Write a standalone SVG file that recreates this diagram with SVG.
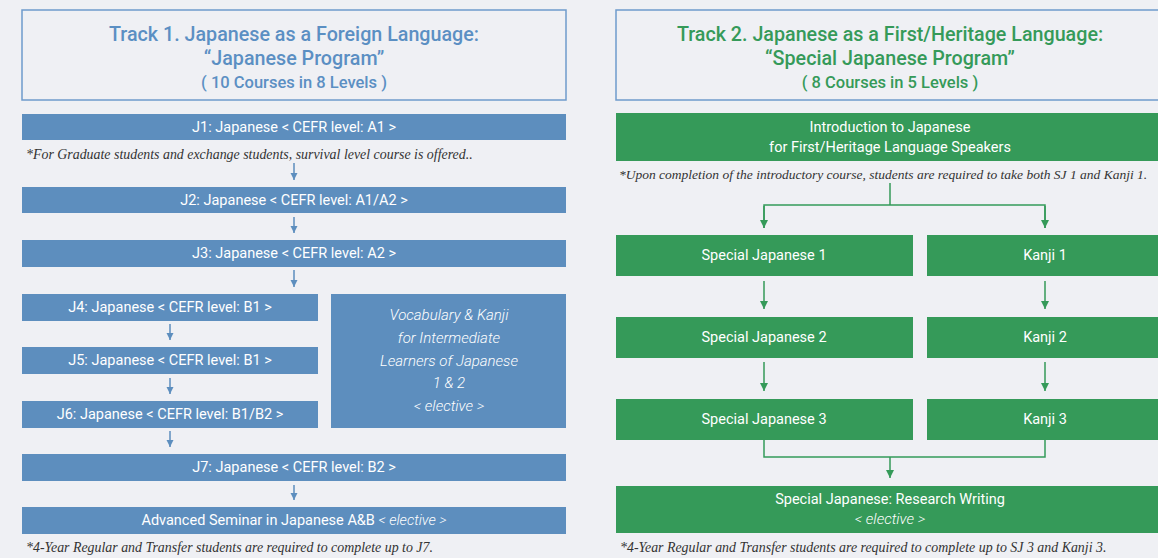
<svg xmlns="http://www.w3.org/2000/svg" width="1158" height="558" viewBox="0 0 1158 558">
<defs>
<style>
.bg{fill:#eff0f4}
.hdr{fill:none;stroke:#6f9bcb;stroke-width:1.5}
.b{fill:#5d8ebe}
.g{fill:#359a59}
.t{font-family:Roboto,"Liberation Sans",sans-serif;font-size:14.5px;font-weight:400;fill:#ffffff;text-anchor:middle}
.ti{font-family:Roboto,"Liberation Sans",sans-serif;font-size:15px;font-style:italic;font-weight:300;fill:#ffffff;text-anchor:middle}
.h1{font-family:Roboto,"Liberation Sans",sans-serif;font-size:19.7px;font-weight:500;text-anchor:middle}
.h2{font-family:Roboto,"Liberation Sans",sans-serif;font-size:16.5px;font-weight:500;text-anchor:middle}
.hb{fill:#5b8fc3}
.hg{fill:#359a59}
.note{font-family:"Liberation Serif",serif;font-style:italic;font-size:13.9px;fill:#333333}
.cb{stroke:#5d8ebe;stroke-width:1.5;fill:none}
.cg{stroke:#359a59;stroke-width:1.5;fill:none}
</style>
<marker id="ab" viewBox="0 0 10 10" refX="10" refY="5" markerWidth="5" markerHeight="5" orient="auto" markerUnits="strokeWidth"><path d="M0,0 L10,5 L0,10 Z" fill="#5d8ebe"/></marker>
<marker id="ag" viewBox="0 0 10 10" refX="10" refY="5" markerWidth="5.5" markerHeight="5.5" orient="auto" markerUnits="strokeWidth"><path d="M0,0 L10,5 L0,10 Z" fill="#359a59"/></marker>
</defs>
<rect class="bg" x="0" y="0" width="1158" height="558"/>

<g id="track1-header">
<rect class="hdr" x="22" y="10" width="544" height="90"/>
<text class="h1 hb" x="294" y="41">Track 1. Japanese as a Foreign Language:</text>
<text class="h1 hb" x="294" y="65">“Japanese Program”</text>
<text class="h2 hb" x="294" y="88">( 10 Courses in 8 Levels )</text>
</g>

<g id="track2-header">
<rect class="hdr" x="616" y="10" width="560" height="90"/>
<text class="h1 hg" x="890" y="41">Track 2. Japanese as a First/Heritage Language:</text>
<text class="h1 hg" x="890" y="65">“Special Japanese Program”</text>
<text class="h2 hg" x="890" y="88">( 8 Courses in 5 Levels )</text>
</g>

<g id="j1"><rect class="b" x="22" y="114" width="544" height="26"/><text class="t" x="294" y="132">J1: Japanese &lt; CEFR level: A1 &gt;</text></g>
<text class="note" x="26" y="159">*For Graduate students and exchange students, survival level course is offered..</text>
<g id="j2"><rect class="b" x="22" y="187" width="544" height="26"/><text class="t" x="294" y="205">J2: Japanese &lt; CEFR level: A1/A2 &gt;</text></g>
<g id="j3"><rect class="b" x="22" y="240" width="544" height="27"/><text class="t" x="294" y="258">J3: Japanese &lt; CEFR level: A2 &gt;</text></g>
<g id="j4"><rect class="b" x="22" y="294" width="296" height="27"/><text class="t" x="170" y="312">J4: Japanese &lt; CEFR level: B1 &gt;</text></g>
<g id="j5"><rect class="b" x="22" y="347" width="296" height="27"/><text class="t" x="170" y="365">J5: Japanese &lt; CEFR level: B1 &gt;</text></g>
<g id="j6"><rect class="b" x="22" y="401" width="296" height="27"/><text class="t" x="170" y="419">J6: Japanese &lt; CEFR level: B1/B2 &gt;</text></g>
<g id="vocab"><rect class="b" x="331" y="294" width="235" height="134"/>
<text class="ti" x="449" y="320">Vocabulary &amp; Kanji</text>
<text class="ti" x="449" y="343">for Intermediate</text>
<text class="ti" x="449" y="366">Learners of Japanese</text>
<text class="ti" x="449" y="388">1 &amp; 2</text>
<text class="ti" x="449" y="411">&lt; elective &gt;</text>
</g>
<g id="j7"><rect class="b" x="22" y="454" width="544" height="27"/><text class="t" x="294" y="472">J7: Japanese &lt; CEFR level: B2 &gt;</text></g>
<g id="adv"><rect class="b" x="22" y="507" width="544" height="27"/><text class="t" x="294" y="525">Advanced Seminar in Japanese A&amp;B <tspan font-style="italic" font-weight="300">&lt; elective &gt;</tspan></text></g>
<text class="note" x="26" y="552">*4-Year Regular and Transfer students are required to complete up to J7.</text>

<g id="intro"><rect class="g" x="616" y="113" width="560" height="48"/>
<text class="t" x="890" y="132">Introduction to Japanese</text>
<text class="t" x="890" y="152">for First/Heritage Language Speakers</text></g>
<text class="note" x="619" y="179" style="font-size:13.5px">*Upon completion of the introductory course, students are required to take both SJ 1 and Kanji 1.</text>
<g id="sj1"><rect class="g" x="616" y="235" width="297" height="41"/><text class="t" x="764" y="260">Special Japanese 1</text></g>
<g id="k1"><rect class="g" x="927" y="235" width="240" height="41"/><text class="t" x="1045" y="260">Kanji 1</text></g>
<g id="sj2"><rect class="g" x="616" y="317" width="297" height="41"/><text class="t" x="764" y="342">Special Japanese 2</text></g>
<g id="k2"><rect class="g" x="927" y="317" width="240" height="41"/><text class="t" x="1045" y="342">Kanji 2</text></g>
<g id="sj3"><rect class="g" x="616" y="399" width="297" height="41"/><text class="t" x="764" y="424">Special Japanese 3</text></g>
<g id="k3"><rect class="g" x="927" y="399" width="240" height="41"/><text class="t" x="1045" y="424">Kanji 3</text></g>
<g id="rw"><rect class="g" x="616" y="486" width="560" height="47"/>
<text class="t" x="890" y="504">Special Japanese: Research Writing</text>
<text class="ti" x="890" y="524">&lt; elective &gt;</text></g>
<text class="note" x="620" y="552">*4-Year Regular and Transfer students are required to complete up to SJ 3 and Kanji 3.</text>

<g id="connectors">
<line class="cb" x1="294" y1="163" x2="294" y2="180" marker-end="url(#ab)"/>
<line class="cb" x1="294" y1="217" x2="294" y2="233" marker-end="url(#ab)"/>
<line class="cb" x1="294" y1="270" x2="294" y2="287" marker-end="url(#ab)"/>
<line class="cb" x1="170" y1="324" x2="170" y2="340" marker-end="url(#ab)"/>
<line class="cb" x1="170" y1="378" x2="170" y2="394" marker-end="url(#ab)"/>
<line class="cb" x1="170" y1="431" x2="170" y2="447" marker-end="url(#ab)"/>
<line class="cb" x1="294" y1="485" x2="294" y2="500" marker-end="url(#ab)"/>
<polyline class="cg" points="890,183 890,205"/>
<polyline class="cg" points="764,228 764,205 1045,205 1045,228"/>
<path class="cg" d="M764,206 V228" marker-end="url(#ag)"/>
<path class="cg" d="M1045,206 V228" marker-end="url(#ag)"/>
<line class="cg" x1="764" y1="281" x2="764" y2="309" marker-end="url(#ag)"/>
<line class="cg" x1="1045" y1="281" x2="1045" y2="309" marker-end="url(#ag)"/>
<line class="cg" x1="764" y1="362" x2="764" y2="391" marker-end="url(#ag)"/>
<line class="cg" x1="1045" y1="362" x2="1045" y2="391" marker-end="url(#ag)"/>
<polyline class="cg" points="764,440 764,457 1045,457 1045,440"/>
<line class="cg" x1="890" y1="457" x2="890" y2="478" marker-end="url(#ag)"/>
</g>
</svg>
